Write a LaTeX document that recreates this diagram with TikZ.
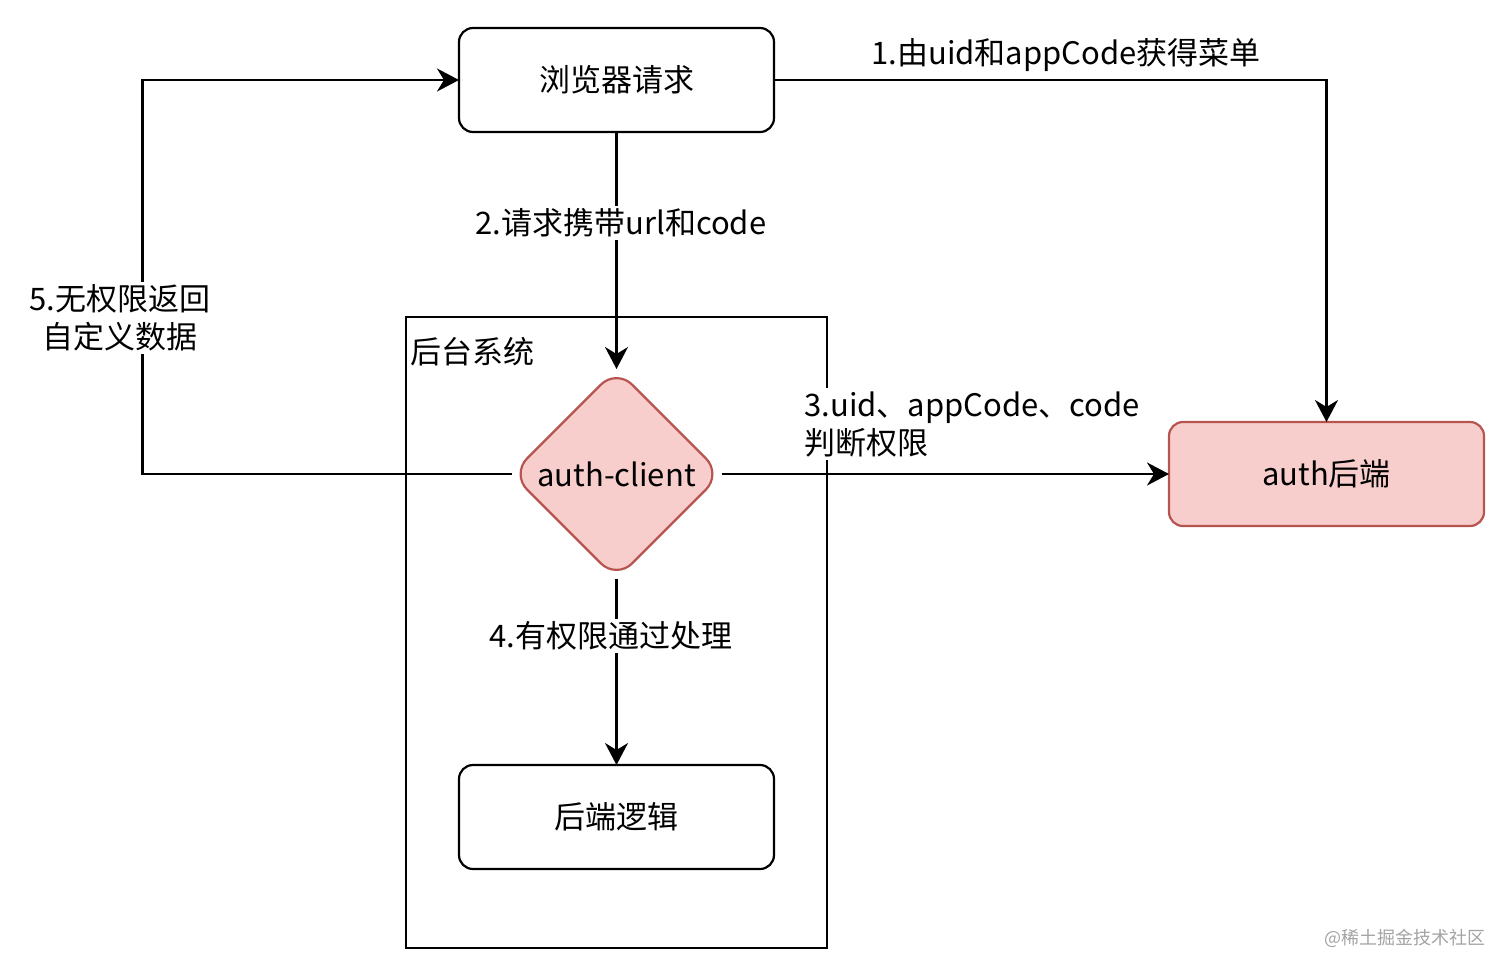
\documentclass[tikz,border=0pt]{standalone}
\usepackage{fontspec}
\setmainfont{Noto Sans CJK SC}
\usepackage{xcolor}
\usepackage{tikz}
\usetikzlibrary{arrows.meta,shapes.geometric}
\definecolor{line}{HTML}{000000}
\definecolor{pinkfill}{HTML}{F8CECC}
\definecolor{pinkdraw}{HTML}{B85450}
\definecolor{mark}{HTML}{A3A3A3}
\tikzset{
  flow/.style={-{Stealth[length=11pt,width=11.5pt,inset=3.5pt]}, line width=1.1pt, draw=line},
  box/.style={draw=line, line width=1.1pt, rounded corners=7pt, minimum width=157.5pt, minimum height=52pt, inner sep=0pt, outer sep=0pt, font=\fontsize{15.5}{19}\selectfont},
  pinkbox/.style={box, fill=pinkfill, draw=pinkdraw},
  decide/.style={diamond, draw=pinkdraw, fill=pinkfill, line width=1.1pt, rounded corners=11pt, minimum width=105pt, minimum height=105pt, inner sep=0pt, outer sep=0pt, font=\fontsize{15.5}{19}\selectfont},
  group/.style={draw=line, line width=1.1pt, minimum width=210.5pt, minimum height=315.5pt, inner sep=0pt, outer sep=0pt},
  lbl/.style={fill=white, inner sep=1.5pt, font=\fontsize{15.5}{19}\selectfont}
}

\begin{document}
\begin{tikzpicture}[x=0.5pt, y=-0.5pt]
  \useasboundingbox (0,0) rectangle (1512,976);
  % container and its title
  \node[group] (sys) at (616.5,632.5) {};
  \node[anchor=west, inner sep=0pt, font=\fontsize{15.5}{19}\selectfont] (systitle) at (410,352) {后台系统};
  % nodes
  \node[box] (browser) at (616.5,80) {浏览器请求};
  \node[decide] (client) at (616.5,474) {auth-client};
  \node[box] (logic) at (616.5,817) {后端逻辑};
  \node[pinkbox] (authsrv) at (1326.5,474) {auth后端};
  % connectors
  \draw[flow] (browser.east) -| (authsrv.north);
  \node[inner sep=0pt, font=\fontsize{15.5}{19}\selectfont] (l1) at (1066,55) {1.由uid和appCode获得菜单};
  \draw[flow] (browser.south) -- (client.north);
  \node[lbl] (l2) at (621,223) {2.请求携带url和code};
  \draw[flow] (client.east) -- (authsrv.west);
  \node[lbl, align=left, anchor=west] (l3) at (801,424) {3.uid、appCode、code\\判断权限};
  \draw[flow] (client.south) -- (logic.north);
  \node[lbl] (l4) at (611,636) {4.有权限通过处理};
  \draw[flow] (client.west) -- ++(-369,0) coordinate (back) |- (browser.west);
  \node[lbl, align=center] (l5) at (120,318) {5.无权限返回\\自定义数据};
  % watermark
  \node[text=mark, inner sep=0pt, font=\fontsize{9}{11}\selectfont] (wm) at (1405,938) {@稀土掘金技术社区};
\end{tikzpicture}
\end{document}
